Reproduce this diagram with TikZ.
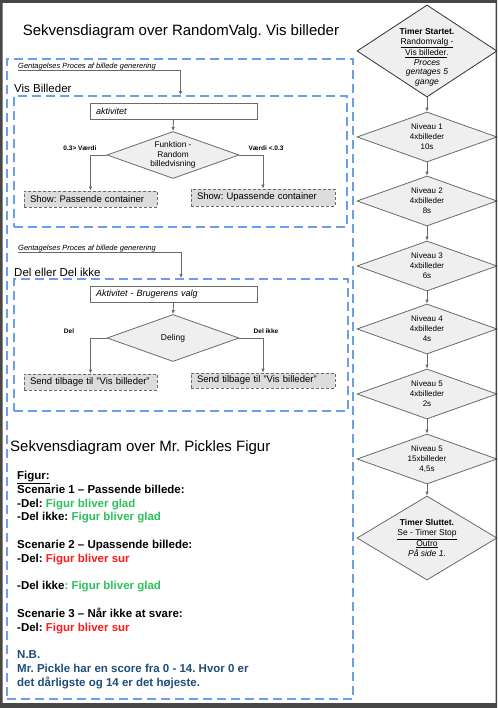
\documentclass[tikz,border=0pt]{standalone}
\usepackage{fontspec}
\setmainfont{Liberation Sans}
\usetikzlibrary{shapes.geometric,arrows.meta}
\frenchspacing

\definecolor{frameblue}{HTML}{6D9EEB}
\definecolor{linegray}{HTML}{6A6A6A}
\definecolor{diafill}{HTML}{EFEFEF}
\definecolor{boxfill}{HTML}{DCDCDC}
\definecolor{gladgreen}{HTML}{2BC15C}
\definecolor{surred}{HTML}{FF1A1A}
\definecolor{nbblue}{HTML}{1F4E79}
\definecolor{pageedge}{HTML}{474747}

\tikzset{
  frm/.style={draw=frameblue, line width=1.8pt, dash pattern=on 9pt off 5pt, inner sep=0pt},
  conn/.style={draw=linegray, line width=0.9pt, -{Latex[length=4pt,width=3.5pt]}},
  act/.style={draw=linegray, fill=white, line width=0.8pt, minimum height=16pt,
    text width=155pt, inner xsep=6pt, inner ysep=0pt, align=left,
    font=\fontsize{9}{10}\selectfont\itshape},
  showbox/.style={draw=linegray, fill=boxfill, line width=0.8pt, densely dashed,
    inner xsep=6pt, inner ysep=0pt, align=left, font=\fontsize{9.5}{11}\selectfont},
  dia/.style={shape=diamond, draw=linegray, fill=diafill, line width=0.8pt,
    inner sep=0pt, align=center},
  lvl/.style={dia, minimum width=140pt, minimum height=50pt, aspect=2.8,
    font=\fontsize{8}{10}\selectfont},
  edgelbl/.style={font=\fontsize{6.5}{7}\selectfont\bfseries, inner sep=0pt},
  reptxt/.style={font=\fontsize{7.5}{8}\selectfont\itshape, inner sep=0pt, anchor=base west},
}

\begin{document}
\begin{tikzpicture}[x=1pt,y=-1pt]
    \useasboundingbox (0,0) rectangle (497,708);
    \fill[white] (0,0) rectangle (497,708);

    % titles
    \node[font=\fontsize{15}{17}\selectfont] (title) at (181,32) {Sekvensdiagram over RandomValg. Vis billeder};

    % outer dashed frame
    \node[frm, minimum width=346pt, minimum height=640pt] (outer) at (180,379) {};

    % Vis billeder
    \node[reptxt] (rep1) at (18,69) {Gentagelses Proces af billede generering};
    \node[anchor=west, inner sep=0pt, font=\fontsize{11.5}{13}\selectfont] (vislbl) at (14,88) {Vis Billeder};
    \node[frm, minimum width=333pt, minimum height=131pt] (visfrm) at (180.5,161.5) {};
    \node[act] (akt1) at (173.5,111) {aktivitet};
    \node[dia, minimum width=132pt, minimum height=47pt, aspect=2.8,
          font=\fontsize{8.3}{9.3}\selectfont] (fkt) at (173,155) {Funktion -\\Random\\billedvisning};
    \node[showbox, text width=121pt, minimum height=16pt] (pas) at (90.5,199) {Show: Passende container};
    \node[showbox, text width=132pt, minimum height=17pt] (upas) at (263,197.5) {Show: Upassende container};
    \node[edgelbl] (lblpas) at (80,148) {0.3> Værdi};
    \node[edgelbl] (lblupas) at (266,148) {Værdi <.0.3};

    \draw[conn] (rep1.south west) -| (visfrm.north);
    \draw[conn] (akt1.south) -- (fkt.north);
    \draw[conn] (fkt.west) -| (pas.north);
    \draw[conn] (fkt.east) -| (upas.north);

    % Del eller Del ikke
    \node[reptxt] (rep2) at (18,251) {Gentagelses Proces af billede generering};
    \node[anchor=west, inner sep=0pt, font=\fontsize{11.5}{13}\selectfont] (dellbl) at (14,272) {Del eller Del ikke};
    \node[frm, minimum width=334pt, minimum height=132pt] (delfrm) at (181,345) {};
    \node[act] (akt2) at (173.5,294.5) {Aktivitet - Brugerens valg};
    \node[dia, minimum width=132pt, minimum height=47pt, aspect=2.8,
          font=\fontsize{8.5}{9.5}\selectfont] (deling) at (173,338) {Deling};
    \node[showbox, text width=121pt, minimum height=16pt] (send1) at (90.5,382) {Send tilbage til "Vis billeder"};
    \node[showbox, text width=132pt, minimum height=15pt] (send2) at (263,380.5) {Send tilbage til "Vis billeder"};
    \node[edgelbl] (lbldel) at (69,331) {Del};
    \node[edgelbl] (lbldelik) at (266,331) {Del ikke};

    \draw[conn] (rep2.south west) -| (delfrm.north);
    \draw[conn] (akt2.south) -- (deling.north);
    \draw[conn] (deling.west) -| (send1.north);
    \draw[conn] (deling.east) -| (send2.north);

    % Mr. Pickle
    \node[anchor=west, inner sep=0pt, font=\fontsize{15}{17}\selectfont] (pickttl) at (10,448) {Sekvensdiagram over Mr. Pickles Figur};
    \node[anchor=north west, inner sep=0pt, align=left,
          font=\fontsize{11.5}{13.8}\selectfont\bfseries] (figtxt) at (17,471) {%
      \underline{Figur:}\\
      Scenarie 1 -- Passende billede:\\
      -Del: \textcolor{gladgreen}{Figur bliver glad}\\
      -Del ikke: \textcolor{gladgreen}{Figur bliver glad}\\[13.8pt]
      Scenarie 2 -- Upassende billede:\\
      -Del: \textcolor{surred}{Figur bliver sur}\\[13.8pt]
      -Del ikke\textcolor{gladgreen}{: Figur bliver glad}\\[13.8pt]
      Scenarie 3 -- Når ikke at svare:\\
      -Del: \textcolor{surred}{Figur bliver sur}\\[13.8pt]
      \textcolor{nbblue}{N.B.}\\
      \textcolor{nbblue}{Mr. Pickle har en score fra 0 - 14. Hvor 0 er}\\
      \textcolor{nbblue}{det dårligste og 14 er det højeste.}};

    % timer column
    \node[dia, draw=black!80, minimum width=140pt, minimum height=92pt, aspect=1.52] (tstart) at (427,51) {};
    \node[align=center, inner sep=0pt, font=\fontsize{8.5}{9.8}\selectfont] (tstarttxt) at (427,57.5)
          {\textbf{Timer Startet.}\\\underline{Randomvalg -}\\\underline{Vis billeder}.\\\textit{Proces}\\\textit{gentages 5}\\\textit{gange}};
    \node[lvl] (niv1) at (427,137) {Niveau 1\\4xbilleder\\10s};
    \node[lvl] (niv2) at (427,201) {Niveau 2\\4xbilleder\\8s};
    \node[lvl] (niv3) at (427,266) {Niveau 3\\4xbilleder\\6s};
    \node[lvl] (niv4) at (427,329) {Niveau 4\\4xbilleder\\4s};
    \node[lvl] (niv5) at (427,394) {Niveau 5\\4xbilleder\\2s};
    \node[lvl] (niv6) at (427,459) {Niveau 5\\15xbilleder\\4,5s};
    \node[dia, minimum width=140pt, minimum height=84pt, aspect=1.67,
          font=\fontsize{8.5}{10.3}\selectfont] (tslut) at (427,538)
          {\textbf{Timer Sluttet.}\\\underline{Se - Timer Stop}\\\underline{Outro}\\\textit{På side 1.}};

    \draw[conn] (tstart.south) -- (niv1.north);
    \draw[conn] (niv1.south) -- (niv2.north);
    \draw[conn] (niv2.south) -- (niv3.north);
    \draw[conn] (niv3.south) -- (niv4.north);
    \draw[conn] (niv4.south) -- (niv5.north);
    \draw[conn] (niv5.south) -- (niv6.north);
    \draw[conn] (niv6.south) -- (tslut.north);

    % page edge
    \fill[pageedge, even odd rule] (0,0) rectangle (497,708) (2.5,3) rectangle (495.5,703);
\end{tikzpicture}
\end{document}
